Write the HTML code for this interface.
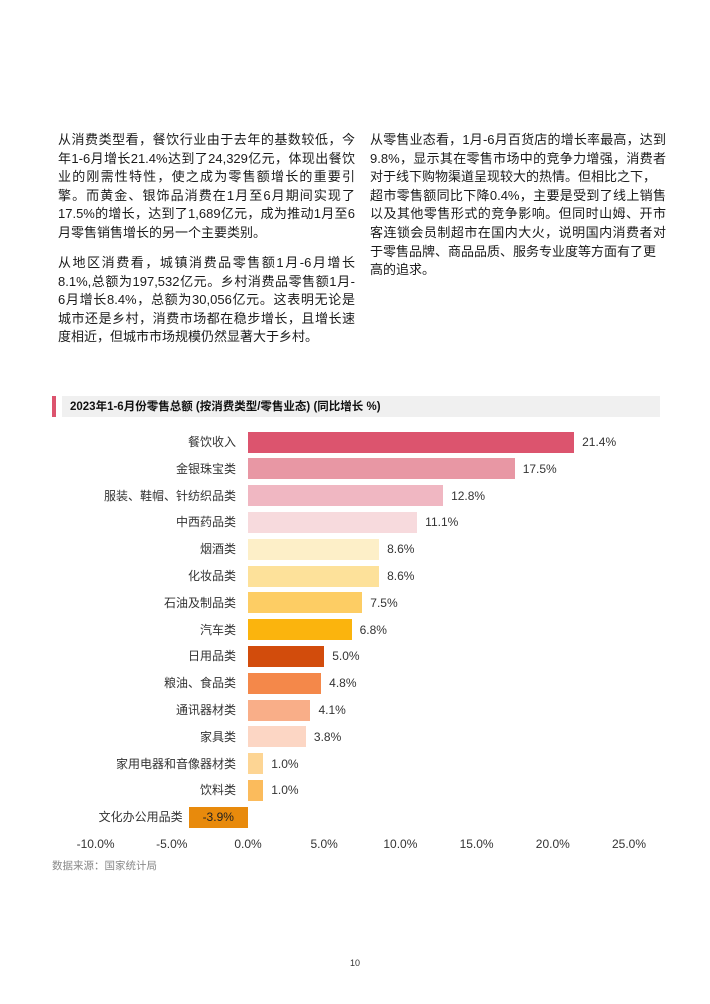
<!DOCTYPE html>
<html><head><meta charset="utf-8"><style>
body{margin:0;width:710px;height:1004px;background:#fff;position:relative;font-family:"Liberation Sans","Noto Sans CJK SC",sans-serif;overflow:hidden}
.l{position:absolute;font-size:13px;color:#1a1a1a;line-height:18px;white-space:nowrap;text-align:justify;text-align-last:justify}
.n{text-align-last:left}
.cat{position:absolute;right:474px;font-size:12px;color:#333;white-space:nowrap;line-height:14px}
.bar{position:absolute;height:21px}
.v{position:absolute;font-size:12px;color:#333;line-height:14px}
.t{position:absolute;font-size:12px;color:#333;top:837px;width:60px;text-align:center}
</style></head><body>
<div class="l" style="left:58px;top:131px;width:297px">从消费类型看，餐饮行业由于去年的基数较低，今</div>
<div class="l" style="left:58px;top:149.6px;width:297px">年1-6月增长21.4%达到了24,329亿元，体现出餐饮</div>
<div class="l" style="left:58px;top:168.2px;width:297px">业的刚需性特性，使之成为零售额增长的重要引</div>
<div class="l" style="left:58px;top:186.8px;width:297px">擎。而黄金、银饰品消费在1月至6月期间实现了</div>
<div class="l" style="left:58px;top:205.4px;width:297px">17.5%的增长，达到了1,689亿元，成为推动1月至6</div>
<div class="l n" style="left:58px;top:224px;width:297px">月零售销售增长的另一个主要类别。</div>
<div class="l" style="left:58px;top:254px;width:297px">从地区消费看，城镇消费品零售额1月-6月增长</div>
<div class="l" style="left:58px;top:272.6px;width:297px">8.1%,总额为197,532亿元。乡村消费品零售额1月-</div>
<div class="l" style="left:58px;top:291.2px;width:297px">6月增长8.4%，总额为30,056亿元。这表明无论是</div>
<div class="l" style="left:58px;top:309.8px;width:297px">城市还是乡村，消费市场都在稳步增长，且增长速</div>
<div class="l n" style="left:58px;top:328.4px;width:297px">度相近，但城市市场规模仍然显著大于乡村。</div>

<div class="l" style="left:370px;top:131px;width:296px">从零售业态看，1月-6月百货店的增长率最高，达到</div>
<div class="l" style="left:370px;top:149.6px;width:296px">9.8%，显示其在零售市场中的竞争力增强，消费者</div>
<div class="l n" style="left:370px;top:168.2px;width:296px">对于线下购物渠道呈现较大的热情。但相比之下，</div>
<div class="l" style="left:370px;top:186.8px;width:296px">超市零售额同比下降0.4%，主要是受到了线上销售</div>
<div class="l" style="left:370px;top:205.4px;width:296px">以及其他零售形式的竞争影响。但同时山姆、开市</div>
<div class="l" style="left:370px;top:224px;width:296px">客连锁会员制超市在国内大火，说明国内消费者对</div>
<div class="l n" style="left:370px;top:242.6px;width:296px">于零售品牌、商品品质、服务专业度等方面有了更</div>
<div class="l n" style="left:370px;top:261.2px;width:296px">高的追求。</div>

<div style="position:absolute;left:52px;top:396px;width:4px;height:21px;background:#dc546e"></div>
<div style="position:absolute;left:62px;top:396px;width:598px;height:21px;background:#f0f0f0"></div>
<div style="position:absolute;left:70px;top:399.5px;font-size:11.5px;font-weight:bold;color:#111;line-height:14px">2023年1-6月份零售总额 (按消费类型/零售业态) (同比增长 %)</div>

<div id="c"></div>
<script>
var d=[["餐饮收入",21.4,"#dc546e"],["金银珠宝类",17.5,"#e897a4"],["服装、鞋帽、针纺织品类",12.8,"#f0b7c2"],["中西药品类",11.1,"#f7dadd"],["烟酒类",8.6,"#fdefc8"],["化妆品类",8.6,"#fde19a"],["石油及制品类",7.5,"#fdcd64"],["汽车类",6.8,"#fbb40d"],["日用品类",5.0,"#d24c0c"],["粮油、食品类",4.8,"#f4884a"],["通讯器材类",4.1,"#f9ae88"],["家具类",3.8,"#fcd6c4"],["家用电器和音像器材类",1.0,"#fdd594"],["饮料类",1.0,"#fbbb5c"],["文化办公用品类",-3.9,"#e88a0c"]];
var h="",z=248,s=15.24;
d.forEach(function(r,i){var c=442+i*26.8;var w=Math.abs(r[1])*s;
var x=r[1]>=0?z:z-w;
h+='<div class="bar" style="left:'+x+'px;top:'+(c-10.5)+'px;width:'+w+'px;background:'+r[2]+'"></div>';
if(r[1]>=0){h+='<div class="cat" style="top:'+(c-7)+'px">'+r[0]+'</div>';
h+='<div class="v" style="left:'+(z+w+8)+'px;top:'+(c-7)+'px">'+r[1].toFixed(1)+'%</div>';}
else{h+='<div class="cat" style="right:'+(710-x+6)+'px;top:'+(c-7)+'px">'+r[0]+'</div>';
h+='<div class="v" style="left:'+(x+14)+'px;top:'+(c-7)+'px;color:#222">'+r[1].toFixed(1)+'%</div>';}
});
for(var k=-10;k<=25;k+=5){h+='<div class="t" style="left:'+(z+k*s-30)+'px">'+k.toFixed(1)+'%</div>';}
document.getElementById("c").innerHTML=h;
</script>
<div style="position:absolute;left:52px;top:858px;font-size:10.5px;color:#888">数据来源：国家统计局</div>
<div style="position:absolute;left:0;width:710px;top:958px;text-align:center;font-size:9px;color:#333">10</div>
</body></html>
